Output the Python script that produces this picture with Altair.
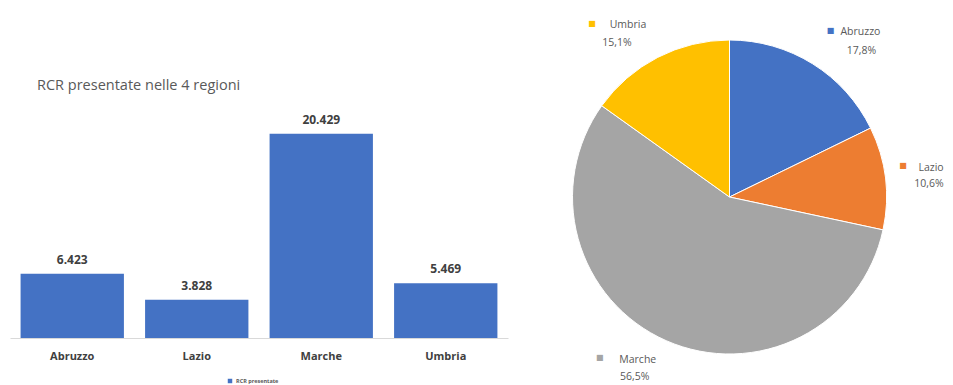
import altair as alt
import pandas as pd

regions = ["Abruzzo", "Lazio", "Marche", "Umbria"]
rcr = [6423, 3828, 20429, 5469]
pie_colors = ["#4472C4", "#ED7D31", "#A5A5A5", "#FFC000"]
bar_color = "#4472C4"
series_name = "RCR presentate"
title_text = "RCR presentate nelle 4 regioni"

total = sum(rcr)
df = pd.DataFrame({
    "regione": regions,
    "rcr": rcr,
    "serie": [series_name] * len(regions),
    "etichetta": [f"{v:,}".replace(",", ".") for v in rcr],
    "pct": [f"{v / total * 100:.1f}%".replace(".", ",") for v in rcr],
    "ordine": list(range(len(regions))),
})

FONT = "Open Sans"
GRAY = "#595959"
DARK = "#404040"

# ---------------- bar chart ----------------
x_axis = alt.X(
    "regione:N", sort=regions,
    scale=alt.Scale(paddingInner=0.17, paddingOuter=0.085),
    axis=alt.Axis(title=None, labelAngle=0, ticks=False, labelPadding=12,
                  labelFontSize=11, labelFontWeight="bold", labelColor=DARK,
                  labelFont=FONT, domainColor="#D9D9D9"),
)
y_axis = alt.Y("rcr:Q", scale=alt.Scale(domain=[0, 33000], nice=False), axis=None)

bars = alt.Chart(df).mark_bar().encode(
    x=x_axis,
    y=y_axis,
    color=alt.Color("serie:N", scale=alt.Scale(range=[bar_color]),
                    legend=alt.Legend(orient="none", legendX=217, legendY=370,
                                      title=None, labelFontSize=5.5, labelFontWeight="bold",
                                      labelFont=FONT, labelColor=GRAY, labelOffset=3,
                                      symbolType="square", symbolSize=20, padding=0)),
)
bar_labels = alt.Chart(df).mark_text(
    baseline="bottom", dy=-7, fontSize=12, fontWeight="bold", color=DARK, font=FONT
).encode(
    x=alt.X("regione:N", sort=regions),
    y=alt.Y("rcr:Q"),
    text="etichetta:N",
)
bar_title = alt.Chart(pd.DataFrame({"t": [title_text]})).mark_text(
    align="left", baseline="middle", fontSize=14.5, color=GRAY, font=FONT
).encode(x=alt.value(27), y=alt.value(78), text="t:N")

bar_chart = alt.layer(bars, bar_labels, bar_title).properties(width=498, height=330)

# ---------------- pie chart ----------------
theta_scale = alt.Scale(domain=[0, total], range=[0, 6.283185307179586])
order = alt.Order("ordine:Q")
color_pie = alt.Color("regione:N", scale=alt.Scale(domain=regions, range=pie_colors), legend=None)

pie = alt.Chart(df).mark_arc(outerRadius=157, stroke="white", strokeWidth=1).encode(
    theta=alt.Theta("rcr:Q", stack=True, scale=theta_scale), color=color_pie, order=order
)

# label offsets (style) relative to the slice mid-angle anchor at radius 200
offsets = {
    "Abruzzo": {"sq": (-5, 3.5), "name": (25, 4.5), "pct": (26, 23.5)},
    "Lazio": {"sq": (-25, -7), "name": (3, -5), "pct": (1, 11)},
    "Marche": {"sq": (-49, -22), "name": (-11, -20), "pct": (-14, -3)},
    "Umbria": {"sq": (-46, 5), "name": (-10, 6), "pct": (-21, 24)},
}

base_lbl = alt.Chart(df).transform_window(
    cum="sum(rcr)", sort=[alt.SortField("ordine")]
).transform_calculate(
    mid="datum.cum - datum.rcr / 2"
)

label_layers = []
for reg in regions:
    off = offsets[reg]
    b = base_lbl.transform_filter(alt.datum.regione == reg)
    sq = b.mark_text(radius=200, dx=off["sq"][0], dy=off["sq"][1], fontSize=8,
                     font="DejaVu Sans", baseline="middle", align="center", text="■").encode(
        theta=alt.Theta("mid:Q"), color=color_pie
    )
    nm = b.mark_text(radius=200, dx=off["name"][0], dy=off["name"][1], fontSize=10.5,
                     font=FONT, color=GRAY, baseline="middle", align="center").encode(
        theta=alt.Theta("mid:Q"), text="regione:N"
    )
    pc = b.mark_text(radius=200, dx=off["pct"][0], dy=off["pct"][1], fontSize=10.5,
                     font=FONT, color=GRAY, baseline="middle", align="center").encode(
        theta=alt.Theta("mid:Q"), text="pct:N"
    )
    label_layers += [sq, nm, pc]

pie_chart = alt.layer(pie, *label_layers).properties(width=379, height=378)

chart = alt.hconcat(bar_chart, pie_chart, spacing=32).resolve_scale(
    color="independent"
).properties(
    padding={"left": 2, "top": 0, "right": 0, "bottom": 0},
    background="white",
).configure_view(stroke="transparent", strokeWidth=0)

chart.save("out.html", embed_options={"renderer": "svg", "actions": False})
